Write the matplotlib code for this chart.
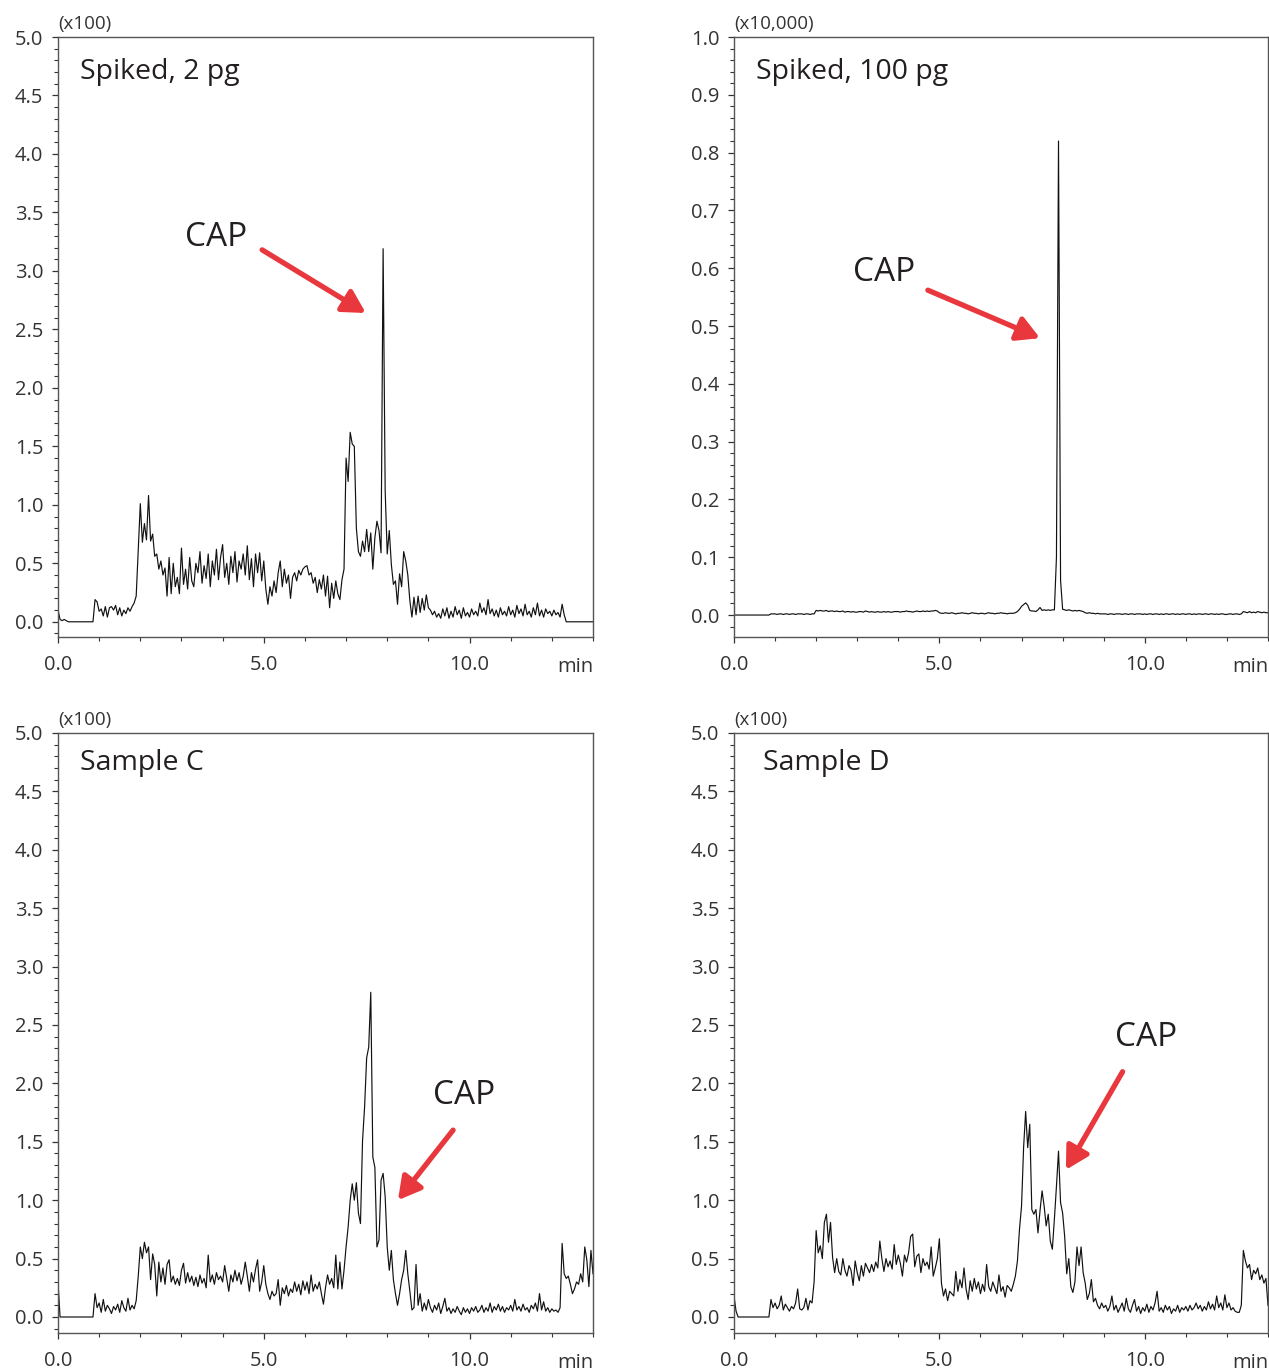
import numpy as np
import matplotlib
matplotlib.use("Agg")
import matplotlib.pyplot as plt
from matplotlib.ticker import MultipleLocator, FormatStrFormatter

plt.rcParams['font.family'] = ['Open Sans', 'DejaVu Sans']

# sampling interval of the traces (min), all traces start at 0.0 min
dt = 0.05

# Spiked, 2 pg  (x100 counts)
spiked_2pg = [
    0.10, 0.02, 0.01, 0.02, 0.01, 0.00, 0.00, 0.00, 0.00, 0.00, 0.00, 0.00, 0.00, 0.00, 0.00, 0.00, 0.00, 0.00, 0.19, 0.17,
    0.09, 0.11, 0.05, 0.13, 0.04, 0.12, 0.13, 0.10, 0.14, 0.06, 0.12, 0.05, 0.10, 0.07, 0.12, 0.09, 0.13, 0.16, 0.22, 0.62,
    1.01, 0.68, 0.84, 0.70, 1.08, 0.69, 0.75, 0.56, 0.58, 0.45, 0.52, 0.40, 0.46, 0.22, 0.55, 0.24, 0.50, 0.30, 0.38, 0.24,
    0.63, 0.32, 0.45, 0.28, 0.55, 0.35, 0.30, 0.50, 0.42, 0.60, 0.33, 0.48, 0.37, 0.58, 0.30, 0.52, 0.40, 0.62, 0.36, 0.55,
    0.66, 0.38, 0.50, 0.32, 0.56, 0.42, 0.60, 0.34, 0.52, 0.45, 0.58, 0.40, 0.65, 0.36, 0.54, 0.30, 0.58, 0.42, 0.59, 0.35,
    0.52, 0.28, 0.15, 0.30, 0.22, 0.35, 0.25, 0.42, 0.52, 0.30, 0.45, 0.33, 0.40, 0.20, 0.38, 0.42, 0.35, 0.44, 0.40, 0.45,
    0.47, 0.48, 0.40, 0.42, 0.33, 0.38, 0.25, 0.36, 0.28, 0.40, 0.22, 0.39, 0.12, 0.33, 0.20, 0.35, 0.24, 0.19, 0.36, 0.45,
    1.40, 1.20, 1.62, 1.52, 1.50, 0.80, 0.60, 0.56, 0.69, 0.60, 0.79, 0.60, 0.76, 0.45, 0.72, 0.86, 0.78, 0.59, 3.19, 1.12,
    0.58, 0.78, 0.49, 0.32, 0.35, 0.15, 0.41, 0.30, 0.60, 0.52, 0.40, 0.18, 0.04, 0.21, 0.06, 0.22, 0.08, 0.20, 0.10, 0.23,
    0.12, 0.10, 0.06, 0.09, 0.04, 0.07, 0.03, 0.11, 0.05, 0.12, 0.03, 0.09, 0.04, 0.13, 0.06, 0.10, 0.03, 0.12, 0.05, 0.08,
    0.04, 0.11, 0.06, 0.09, 0.05, 0.16, 0.08, 0.12, 0.06, 0.19, 0.07, 0.11, 0.05, 0.10, 0.04, 0.12, 0.06, 0.09, 0.05, 0.13,
    0.06, 0.10, 0.04, 0.14, 0.07, 0.11, 0.05, 0.15, 0.06, 0.09, 0.04, 0.12, 0.06, 0.16, 0.05, 0.10, 0.04, 0.11, 0.07, 0.09,
    0.05, 0.10, 0.06, 0.08, 0.04, 0.15, 0.06, 0.00, 0.00, 0.00, 0.00, 0.00, 0.00, 0.00, 0.00, 0.00, 0.00, 0.00, 0.00, 0.00,
    0.00,
]

# Spiked, 100 pg  (x10,000 counts)
spiked_100pg = [
    0.000, 0.000, 0.000, 0.000, 0.000, 0.000, 0.000, 0.000, 0.000, 0.000, 0.000, 0.000, 0.000, 0.000, 0.000, 0.000, 0.000, 0.000, 0.002, 0.002,
    0.002, 0.001, 0.002, 0.002, 0.001, 0.002, 0.002, 0.001, 0.002, 0.002, 0.001, 0.002, 0.002, 0.002, 0.001, 0.002, 0.002, 0.001, 0.002, 0.002,
    0.008, 0.007, 0.008, 0.007, 0.007, 0.008, 0.006, 0.007, 0.007, 0.006, 0.007, 0.006, 0.006, 0.007, 0.005, 0.006, 0.006, 0.005, 0.006, 0.005,
    0.005, 0.006, 0.006, 0.005, 0.007, 0.006, 0.005, 0.006, 0.005, 0.005, 0.006, 0.005, 0.005, 0.006, 0.005, 0.006, 0.005, 0.005, 0.006, 0.006,
    0.006, 0.005, 0.006, 0.006, 0.007, 0.006, 0.006, 0.005, 0.006, 0.007, 0.006, 0.006, 0.007, 0.006, 0.007, 0.006, 0.007, 0.007, 0.008, 0.007,
    0.004, 0.003, 0.003, 0.004, 0.003, 0.003, 0.004, 0.003, 0.002, 0.003, 0.003, 0.004, 0.003, 0.003, 0.002, 0.003, 0.004, 0.003, 0.003, 0.002,
    0.003, 0.003, 0.002, 0.003, 0.004, 0.003, 0.003, 0.002, 0.003, 0.003, 0.004, 0.003, 0.003, 0.002, 0.003, 0.003, 0.003, 0.004, 0.006, 0.010,
    0.015, 0.018, 0.021, 0.017, 0.008, 0.007, 0.007, 0.006, 0.009, 0.013, 0.008, 0.009, 0.008, 0.009, 0.008, 0.009, 0.009, 0.100, 0.820, 0.060,
    0.010, 0.009, 0.008, 0.009, 0.008, 0.007, 0.008, 0.007, 0.008, 0.007, 0.006, 0.004, 0.003, 0.004, 0.003, 0.003, 0.002, 0.003, 0.002, 0.002,
    0.002, 0.002, 0.001, 0.002, 0.002, 0.001, 0.002, 0.002, 0.002, 0.001, 0.002, 0.002, 0.001, 0.002, 0.002, 0.001, 0.002, 0.002, 0.002, 0.001,
    0.002, 0.001, 0.002, 0.002, 0.001, 0.002, 0.002, 0.001, 0.002, 0.001, 0.002, 0.002, 0.001, 0.002, 0.002, 0.001, 0.002, 0.001, 0.002, 0.002,
    0.001, 0.002, 0.002, 0.001, 0.002, 0.001, 0.002, 0.002, 0.001, 0.002, 0.002, 0.001, 0.002, 0.002, 0.001, 0.002, 0.001, 0.002, 0.002, 0.001,
    0.001, 0.002, 0.002, 0.001, 0.002, 0.002, 0.001, 0.002, 0.006, 0.005, 0.004, 0.006, 0.004, 0.005, 0.004, 0.006, 0.005, 0.004, 0.005, 0.004,
    0.004,
]

# Sample C  (x100 counts)
sample_c = [
    0.30, 0.00, 0.00, 0.00, 0.00, 0.00, 0.00, 0.00, 0.00, 0.00, 0.00, 0.00, 0.00, 0.00, 0.00, 0.00, 0.00, 0.00, 0.20, 0.08,
    0.12, 0.04, 0.15, 0.05, 0.10, 0.07, 0.03, 0.09, 0.06, 0.11, 0.04, 0.14, 0.08, 0.05, 0.16, 0.06, 0.10, 0.07, 0.14, 0.35,
    0.60, 0.50, 0.64, 0.55, 0.60, 0.32, 0.54, 0.45, 0.18, 0.47, 0.30, 0.42, 0.28, 0.45, 0.49, 0.30, 0.35, 0.28, 0.33, 0.27,
    0.40, 0.46, 0.29, 0.38, 0.30, 0.35, 0.27, 0.34, 0.26, 0.36, 0.29, 0.33, 0.25, 0.53, 0.30, 0.36, 0.28, 0.38, 0.32, 0.35,
    0.30, 0.44, 0.33, 0.22, 0.36, 0.30, 0.40, 0.31, 0.38, 0.28, 0.35, 0.47, 0.35, 0.22, 0.38, 0.30, 0.41, 0.49, 0.22, 0.30,
    0.44, 0.28, 0.20, 0.15, 0.22, 0.18, 0.20, 0.32, 0.10, 0.25, 0.20, 0.27, 0.18, 0.24, 0.21, 0.30, 0.22, 0.28, 0.19, 0.31,
    0.23, 0.30, 0.20, 0.36, 0.22, 0.28, 0.24, 0.30, 0.20, 0.11, 0.25, 0.36, 0.28, 0.33, 0.25, 0.53, 0.24, 0.47, 0.24, 0.40,
    0.60, 0.77, 1.00, 1.14, 1.00, 1.15, 0.89, 0.80, 1.51, 1.80, 2.22, 2.31, 2.78, 1.37, 1.28, 0.60, 0.66, 1.17, 1.23, 1.03,
    0.60, 0.40, 0.57, 0.32, 0.20, 0.10, 0.20, 0.32, 0.40, 0.57, 0.37, 0.22, 0.06, 0.08, 0.45, 0.10, 0.20, 0.05, 0.12, 0.06,
    0.15, 0.08, 0.04, 0.10, 0.06, 0.12, 0.03, 0.09, 0.16, 0.05, 0.08, 0.03, 0.07, 0.04, 0.09, 0.05, 0.02, 0.08, 0.04, 0.07,
    0.03, 0.08, 0.05, 0.09, 0.04, 0.06, 0.10, 0.04, 0.08, 0.05, 0.12, 0.04, 0.09, 0.06, 0.11, 0.05, 0.09, 0.04, 0.08, 0.06,
    0.10, 0.05, 0.15, 0.06, 0.09, 0.05, 0.11, 0.06, 0.08, 0.04, 0.10, 0.07, 0.12, 0.05, 0.20, 0.06, 0.13, 0.05, 0.08, 0.04,
    0.07, 0.05, 0.06, 0.04, 0.08, 0.63, 0.37, 0.33, 0.35, 0.28, 0.20, 0.24, 0.30, 0.28, 0.37, 0.30, 0.60, 0.49, 0.26, 0.57,
    0.37,
]

# Sample D  (x100 counts)
sample_d = [
    0.18, 0.05, 0.00, 0.00, 0.00, 0.00, 0.00, 0.00, 0.00, 0.00, 0.00, 0.00, 0.00, 0.00, 0.00, 0.00, 0.00, 0.00, 0.15, 0.08,
    0.12, 0.07, 0.10, 0.18, 0.06, 0.11, 0.08, 0.05, 0.09, 0.07, 0.12, 0.24, 0.07, 0.06, 0.08, 0.16, 0.06, 0.14, 0.12, 0.30,
    0.74, 0.55, 0.61, 0.50, 0.81, 0.88, 0.64, 0.81, 0.51, 0.38, 0.50, 0.39, 0.36, 0.50, 0.40, 0.35, 0.44, 0.40, 0.27, 0.48,
    0.38, 0.31, 0.44, 0.35, 0.46, 0.42, 0.38, 0.45, 0.39, 0.47, 0.42, 0.65, 0.50, 0.39, 0.50, 0.43, 0.48, 0.41, 0.62, 0.45,
    0.53, 0.46, 0.35, 0.53, 0.47, 0.55, 0.69, 0.71, 0.43, 0.52, 0.54, 0.38, 0.50, 0.44, 0.47, 0.41, 0.60, 0.35, 0.42, 0.50,
    0.67, 0.29, 0.18, 0.24, 0.14, 0.22, 0.20, 0.18, 0.39, 0.22, 0.32, 0.25, 0.42, 0.24, 0.15, 0.31, 0.22, 0.33, 0.24, 0.30,
    0.20, 0.28, 0.22, 0.45, 0.26, 0.22, 0.30, 0.25, 0.20, 0.36, 0.22, 0.26, 0.17, 0.27, 0.25, 0.22, 0.28, 0.35, 0.48, 0.75,
    0.95, 1.45, 1.76, 1.45, 1.65, 0.92, 0.88, 0.92, 0.72, 0.91, 1.08, 0.95, 0.78, 0.88, 0.65, 0.58, 0.84, 1.12, 1.42, 0.98,
    0.89, 0.69, 0.37, 0.50, 0.26, 0.21, 0.30, 0.60, 0.44, 0.60, 0.38, 0.29, 0.15, 0.20, 0.32, 0.13, 0.16, 0.10, 0.07, 0.12,
    0.08, 0.10, 0.05, 0.09, 0.18, 0.06, 0.10, 0.04, 0.08, 0.12, 0.05, 0.16, 0.07, 0.04, 0.10, 0.15, 0.05, 0.09, 0.03, 0.08,
    0.05, 0.11, 0.04, 0.09, 0.06, 0.12, 0.22, 0.05, 0.08, 0.04, 0.10, 0.06, 0.09, 0.03, 0.07, 0.05, 0.10, 0.04, 0.08, 0.06,
    0.09, 0.05, 0.10, 0.06, 0.08, 0.12, 0.07, 0.10, 0.05, 0.09, 0.06, 0.13, 0.07, 0.11, 0.06, 0.18, 0.08, 0.12, 0.06, 0.19,
    0.08, 0.12, 0.06, 0.08, 0.05, 0.04, 0.04, 0.10, 0.57, 0.48, 0.42, 0.45, 0.32, 0.40, 0.37, 0.42, 0.32, 0.36, 0.29, 0.33,
    0.10,
]

titles = ["Spiked, 2 pg", "Spiked, 100 pg", "Sample C", "Sample D"]
scales = ["(x100)", "(x10,000)", "(x100)", "(x100)"]
traces = [spiked_2pg, spiked_100pg, sample_c, sample_d]
y_max = [5.0, 1.0, 5.0, 5.0]
y_bottom = [-0.13, -0.038, -0.137, -0.137]
y_major = [0.5, 0.1, 0.5, 0.5]
y_minor = [0.1, 0.02, 0.1, 0.1]
x_max = 13.0

# CAP label position, arrow tail and arrow head (time, intensity)
cap_text = [(3.84, 3.29), (3.65, 0.592), (9.87, 1.90), (10.03, 2.39)]
arrow_tail = [(4.96, 3.18), (4.72, 0.562), (9.60, 1.60), (9.46, 2.10)]
arrow_head = [(7.48, 2.64), (7.45, 0.479), (8.26, 1.00), (8.08, 1.26)]
title_pos = [(0.041, 0.942), (0.041, 0.942), (0.041, 0.95), (0.054, 0.95)]

W, H = 1269, 1371
fig = plt.figure(figsize=(W / 100, H / 100), dpi=100)

# axes boxes in pixels: left, top, right, bottom
boxes = [(58, 37, 593, 637), (734, 37, 1268, 637),
         (58, 733, 593, 1333), (734, 733, 1268, 1333)]

txt = '#231f20'
red = '#e8383d'

for i in range(4):
    l, t, r, b = boxes[i]
    ax = fig.add_axes([l / W, (H - b) / H, (r - l) / W, (b - t) / H])
    y = np.array(traces[i])
    x = np.arange(len(y)) * dt
    ax.plot(x, y, color='#111111', lw=0.85)

    ax.set_xlim(0, x_max)
    ax.set_ylim(y_bottom[i], y_max[i])

    ax.xaxis.set_major_locator(MultipleLocator(5))
    ax.xaxis.set_minor_locator(MultipleLocator(1))
    ax.xaxis.set_major_formatter(FormatStrFormatter('%.1f'))
    ax.yaxis.set_major_locator(MultipleLocator(y_major[i]))
    ax.yaxis.set_minor_locator(MultipleLocator(y_minor[i]))
    ax.yaxis.set_major_formatter(FormatStrFormatter('%.1f'))

    ax.tick_params(axis='both', which='major', direction='out', length=4.5, width=0.9,
                   color='#333333', labelsize=14.5, labelcolor='#333333', pad=6)
    ax.tick_params(axis='both', which='minor', direction='out', length=2.8, width=0.8,
                   color='#333333')
    ax.tick_params(axis='x', which='both', pad=8.5)

    for s in ax.spines.values():
        s.set_color('#555555')
        s.set_linewidth(1.0)

    ax.text(1.0, -0.034, 'min', transform=ax.transAxes, ha='right', va='top',
            fontsize=14.5, color='#333333')
    ax.text(0.0, 1.006, scales[i], transform=ax.transAxes, ha='left', va='bottom',
            fontsize=13.5, color='#333333')
    ax.text(title_pos[i][0], title_pos[i][1], titles[i], transform=ax.transAxes,
            ha='left', va='center', fontsize=20.5, color=txt, fontweight='medium')

    ax.text(cap_text[i][0], cap_text[i][1], 'CAP', ha='center', va='center',
            fontsize=24, color=txt, fontweight='medium')
    ax.annotate('', xy=arrow_head[i], xytext=arrow_tail[i],
                arrowprops=dict(arrowstyle='-|>,head_length=0.9,head_width=0.5',
                                color=red, lw=3.8, mutation_scale=15,
                                shrinkA=0, shrinkB=0))

fig.savefig('out.png', dpi=100)
